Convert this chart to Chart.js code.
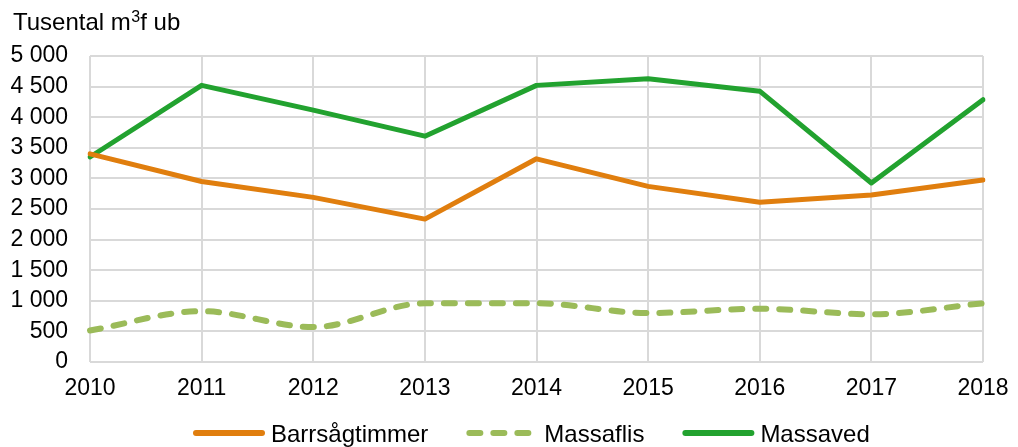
<!DOCTYPE html>
<html>
<head>
<meta charset="utf-8">
<script src="https://cdn.jsdelivr.net/npm/chart.js@4"></script>
<style>
html,body{margin:0;padding:0;background:#fff;}
#wrap{position:relative;width:1018px;height:447px;}
</style>
</head>
<body>
<div id="wrap"><canvas id="c" width="1018" height="447"></canvas></div>
<script>
const years = ['2010','2011','2012','2013','2014','2015','2016','2017','2018'];
const barrsagtimmer = [3400, 2950, 2690, 2335, 3320, 2870, 2610, 2730, 2975];
const massaflis = [515, 830, 570, 960, 960, 800, 870, 780, 960];
const massaved = [3350, 4520, 4115, 3690, 4520, 4630, 4425, 2925, 4285];
const titleMain = 'Tusental m';
const titleSup = '3';
const titleEnd = 'f ub';

const FONT = '"Liberation Sans", Arial, sans-serif';
Chart.defaults.font.family = FONT;
Chart.defaults.font.size = 23;
Chart.defaults.color = '#000';

const titlePlugin = {
  id: 'ytitle',
  afterDraw(chart) {
    const ctx = chart.ctx;
    ctx.save();
    ctx.fillStyle = '#000';
    ctx.textBaseline = 'alphabetic';
    ctx.textAlign = 'left';
    let x = 13;
    const y = 30;
    ctx.font = '24px ' + FONT;
    ctx.fillText(titleMain, x, y);
    x += ctx.measureText(titleMain).width;
    ctx.font = '16px ' + FONT;
    ctx.fillText(titleSup, x + 0.5, y - 8);
    x += ctx.measureText(titleSup).width + 0.5;
    ctx.font = '24px ' + FONT;
    ctx.fillText(titleEnd, x, y);
    ctx.restore();
  }
};

const legendPlugin = {
  id: 'customLegend',
  afterDraw(chart) {
    const ctx = chart.ctx;
    ctx.save();
    ctx.font = '24px ' + FONT;
    ctx.textBaseline = 'alphabetic';
    ctx.textAlign = 'left';
    let x = 193;
    const y = 433;
    chart.data.datasets.forEach(ds => {
      ctx.strokeStyle = ds.borderColor;
      ctx.lineWidth = 6;
      ctx.lineCap = 'round';
      ctx.setLineDash(ds.borderDash || []);
      ctx.lineDashOffset = 0;
      ctx.beginPath();
      ctx.moveTo(x + 3, y);
      ctx.lineTo(x + 69, y);
      ctx.stroke();
      ctx.setLineDash([]);
      ctx.fillStyle = '#000';
      ctx.fillText(ds.label, x + 78, y + 9);
      x += 78 + ctx.measureText(ds.label).width + 38;
    });
    ctx.restore();
  }
};

new Chart(document.getElementById('c'), {
  type: 'line',
  data: {
    labels: years,
    datasets: [
      { label: 'Barrsågtimmer', data: barrsagtimmer, borderColor: '#E07E0E', backgroundColor: '#E07E0E',
        borderWidth: 5, pointRadius: 0, tension: 0, borderCapStyle: 'round', borderJoinStyle: 'round' },
      { label: 'Massaflis', data: massaflis, borderColor: '#9BBB59', backgroundColor: '#9BBB59',
        borderWidth: 6, pointRadius: 0, cubicInterpolationMode: 'monotone', borderDash: [11, 13], borderCapStyle: 'round', borderJoinStyle: 'round' },
      { label: 'Massaved', data: massaved, borderColor: '#22A22F', backgroundColor: '#22A22F',
        borderWidth: 5, pointRadius: 0, tension: 0, borderCapStyle: 'round', borderJoinStyle: 'round' }
    ]
  },
  options: {
    responsive: false,
    animation: false,
    devicePixelRatio: 1,
    layout: { padding: { top: 56, right: 35, left: 0, bottom: 45 } },
    scales: {
      x: {
        offset: false,
        grid: { color: '#D9D9D9', lineWidth: 2, drawTicks: false },
        border: { display: false },
        ticks: { padding: 13, maxRotation: 0, autoSkip: false },
        afterFit(s) { s.height = 40; s.paddingLeft = 0; s.paddingRight = 0; }
      },
      y: {
        min: 0, max: 5000,
        grid: { color: '#D9D9D9', lineWidth: 2, drawTicks: false },
        border: { display: false },
        ticks: {
          stepSize: 500, padding: 22,
          callback: v => String(v).replace(/\B(?=(\d{3})+(?!\d))/g, ' ')
        },
        afterFit(s) { s.width = 90; }
      }
    },
    plugins: {
      title: { display: false },
      tooltip: { enabled: false },
      legend: { display: false }
    }
  },
  plugins: [titlePlugin, legendPlugin]
});
</script>
</body>
</html>
